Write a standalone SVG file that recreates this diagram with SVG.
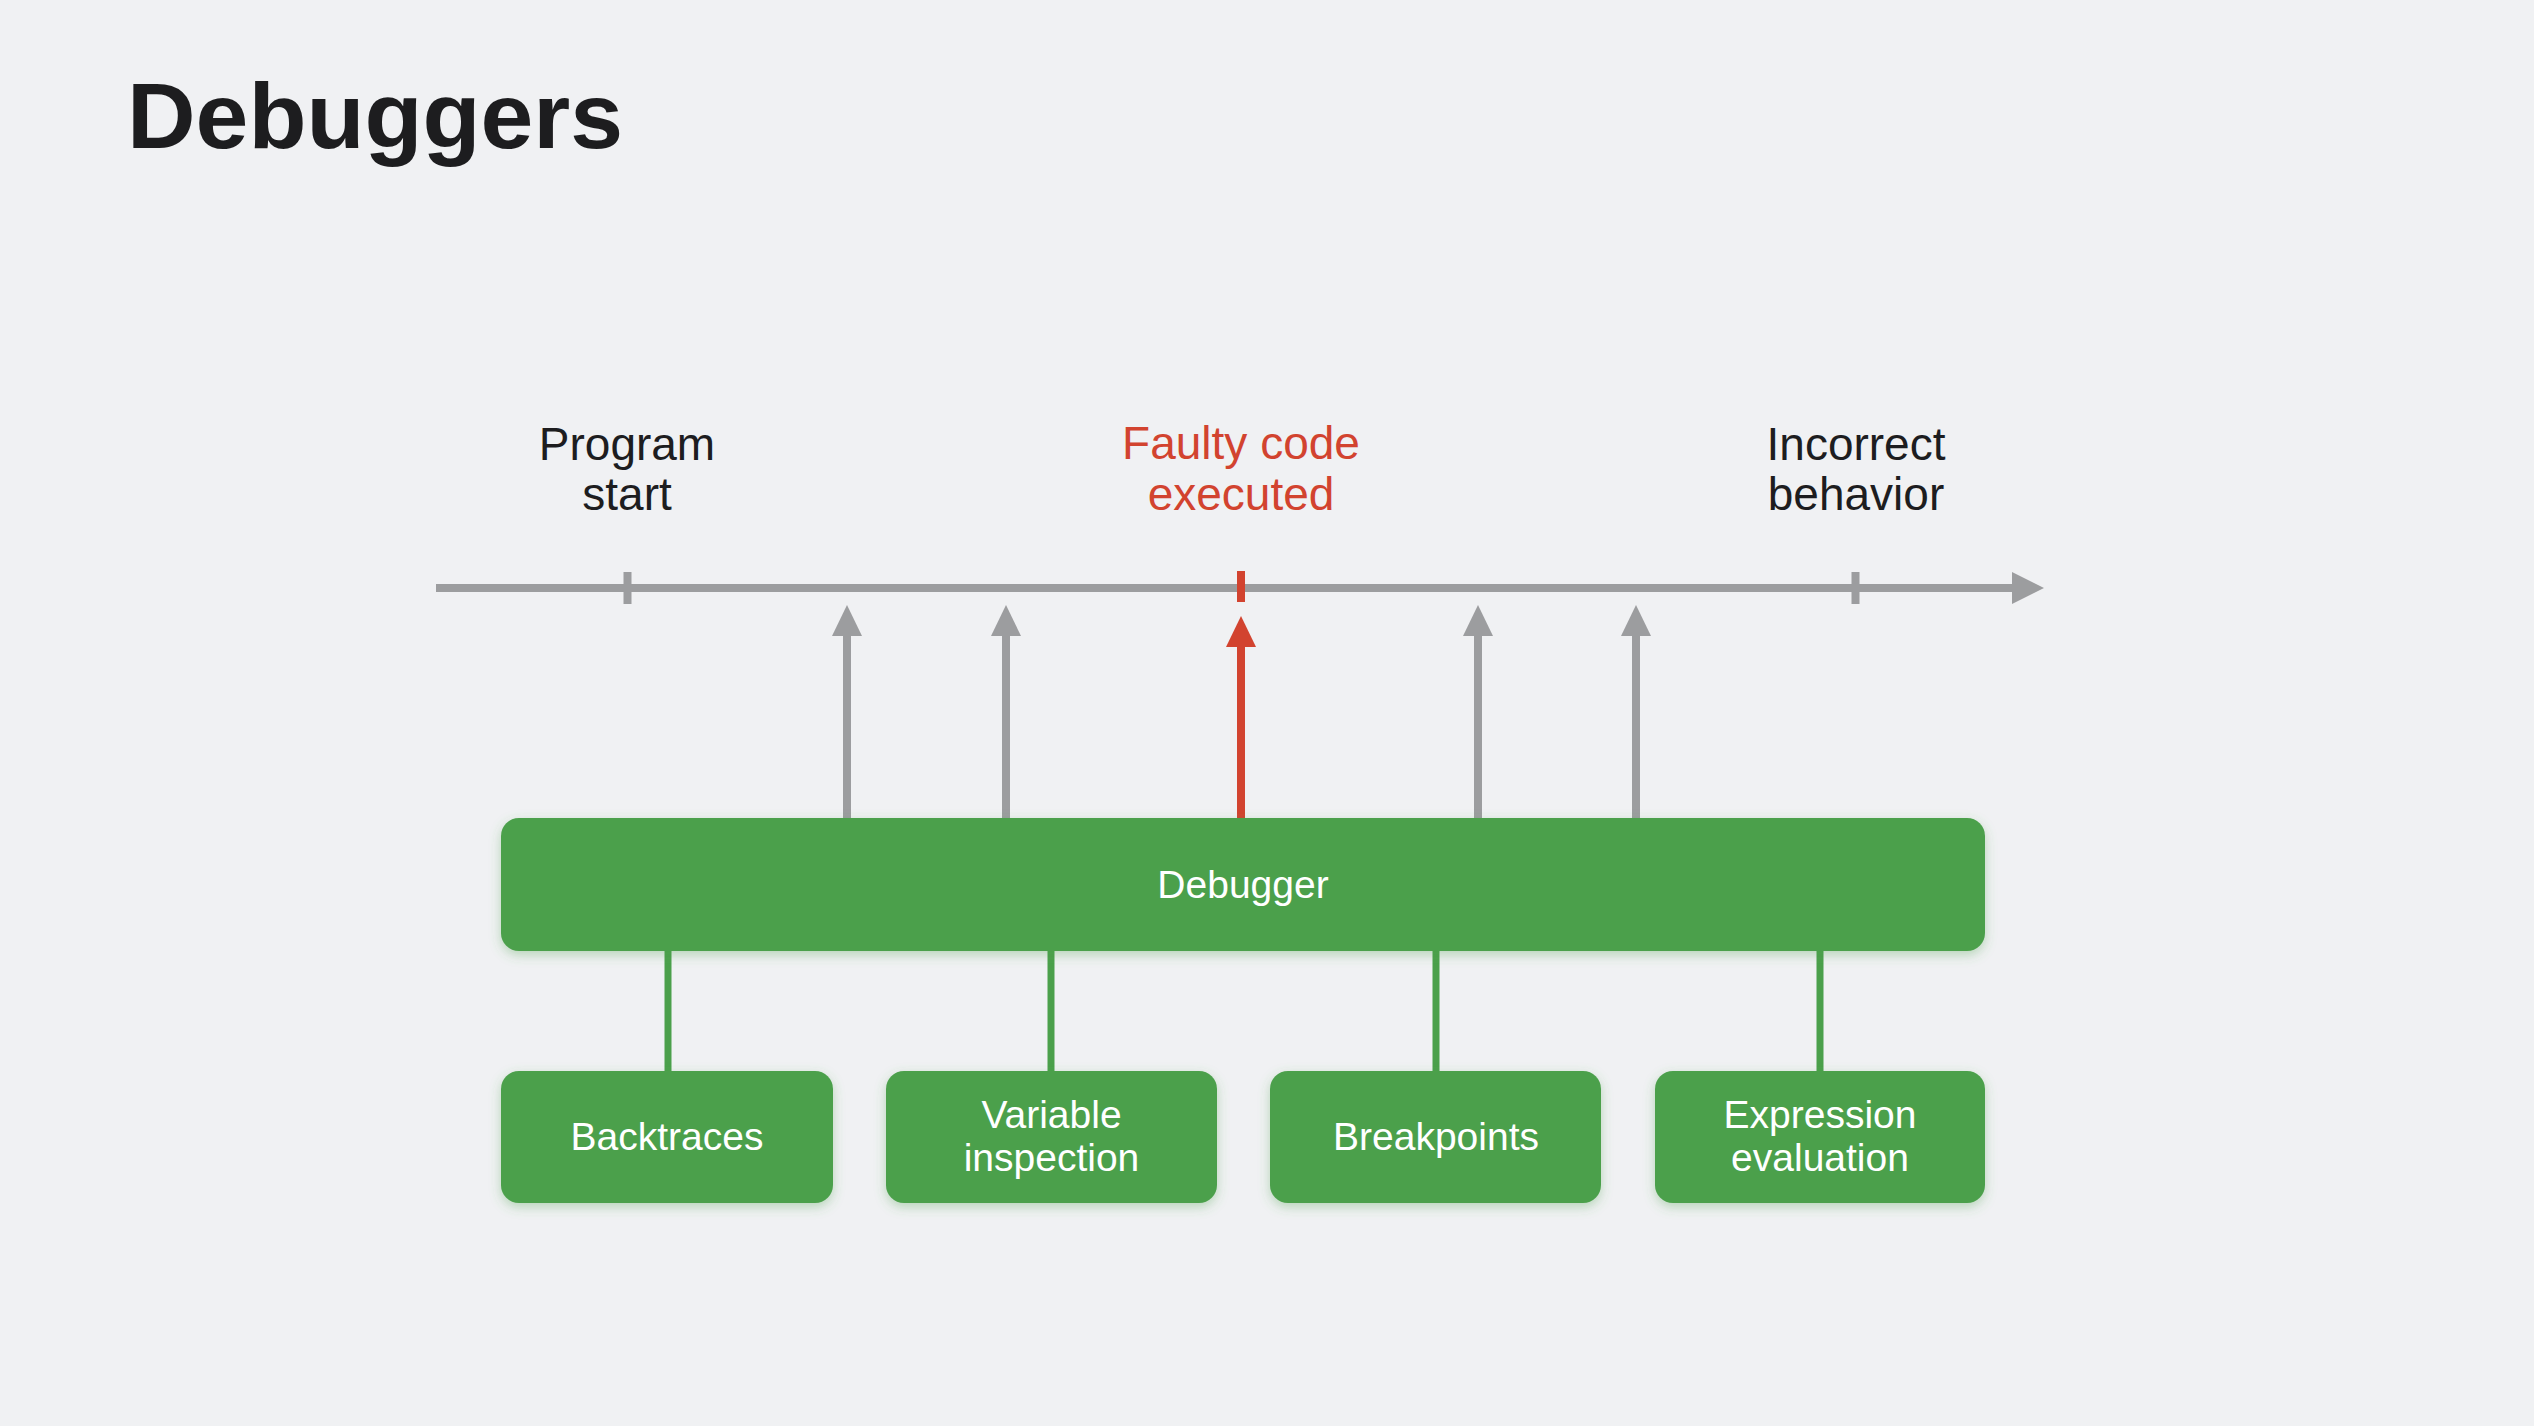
<svg xmlns="http://www.w3.org/2000/svg" width="2534" height="1426" viewBox="0 0 2534 1426">
<style>
.bg{fill:#f0f1f3}
.title{font-family:"Liberation Sans",Arial,sans-serif;font-weight:700;font-size:93px;fill:#1d1d1f}
.lbl{font-family:"Liberation Sans",Arial,sans-serif;font-size:46px;fill:#1d1d1f;text-anchor:middle}
.red{fill:#d2432f}
.box{fill:#4ba04b;filter:url(#sh)}
.btxt{font-family:"Liberation Sans",Arial,sans-serif;font-size:39px;fill:#ffffff;text-anchor:middle}
.gray{stroke:#9c9d9f;stroke-width:8;fill:none}
.grayf{fill:#9c9d9f}
.redl{stroke:#d2432f;stroke-width:8;fill:none}
.green{stroke:#4ba04b;stroke-width:7;fill:none}
</style>
<defs>
<filter id="sh" x="-10%" y="-30%" width="120%" height="160%">
<feDropShadow dx="0" dy="4" stdDeviation="6" flood-color="#4ba04b" flood-opacity="0.35"/>
</filter>
</defs>
<rect class="bg" x="0" y="0" width="2534" height="1426"/>
<text class="title" x="127" y="148" textLength="496" lengthAdjust="spacingAndGlyphs">Debuggers</text>

<g id="labels">
<text class="lbl" x="627" y="460">Program</text>
<text class="lbl" x="627" y="510">start</text>
<text class="lbl red" x="1241" y="459">Faulty code</text>
<text class="lbl red" x="1241" y="510">executed</text>
<text class="lbl" x="1856" y="460">Incorrect</text>
<text class="lbl" x="1856" y="510">behavior</text>
</g>

<g id="timeline">
<line class="gray" x1="436" y1="588" x2="2016" y2="588"/>
<polygon class="grayf" points="2012,572 2044,588 2012,604"/>
<line class="gray" x1="627.5" y1="572" x2="627.5" y2="604" stroke-width="7"/>
<line class="gray" x1="1855.5" y1="572" x2="1855.5" y2="604" stroke-width="7"/>
<line class="redl" x1="1241" y1="571" x2="1241" y2="602"/>
</g>

<g id="connectors">
<line class="gray" x1="847" y1="630" x2="847" y2="820"/>
<polygon class="grayf" points="847,605 862,636 832,636"/>
<line class="gray" x1="1006" y1="630" x2="1006" y2="820"/>
<polygon class="grayf" points="1006,605 1021,636 991,636"/>
<line class="gray" x1="1478" y1="630" x2="1478" y2="820"/>
<polygon class="grayf" points="1478,605 1493,636 1463,636"/>
<line class="gray" x1="1636" y1="630" x2="1636" y2="820"/>
<polygon class="grayf" points="1636,605 1651,636 1621,636"/>
<line class="redl" x1="1241" y1="640" x2="1241" y2="820"/>
<polygon fill="#d2432f" points="1241,616 1256,647 1226,647"/>
<line class="green" x1="668" y1="948" x2="668" y2="1073"/>
<line class="green" x1="1051" y1="948" x2="1051" y2="1073"/>
<line class="green" x1="1436" y1="948" x2="1436" y2="1073"/>
<line class="green" x1="1820" y1="948" x2="1820" y2="1073"/>
</g>

<g id="debugger">
<rect class="box" x="501" y="818" width="1484" height="133" rx="18"/>
<text class="btxt" x="1243" y="898">Debugger</text>
</g>
<g id="backtraces">
<rect class="box" x="501" y="1071" width="332" height="132" rx="18"/>
<text class="btxt" x="667" y="1150">Backtraces</text>
</g>
<g id="variable-inspection">
<rect class="box" x="886" y="1071" width="331" height="132" rx="18"/>
<text class="btxt" x="1051.5" y="1128">Variable</text>
<text class="btxt" x="1051.5" y="1171">inspection</text>
</g>
<g id="breakpoints">
<rect class="box" x="1270" y="1071" width="331" height="132" rx="18"/>
<text class="btxt" x="1436" y="1150">Breakpoints</text>
</g>
<g id="expression-evaluation">
<rect class="box" x="1655" y="1071" width="330" height="132" rx="18"/>
<text class="btxt" x="1820" y="1128">Expression</text>
<text class="btxt" x="1820" y="1171">evaluation</text>
</g>
</svg>
